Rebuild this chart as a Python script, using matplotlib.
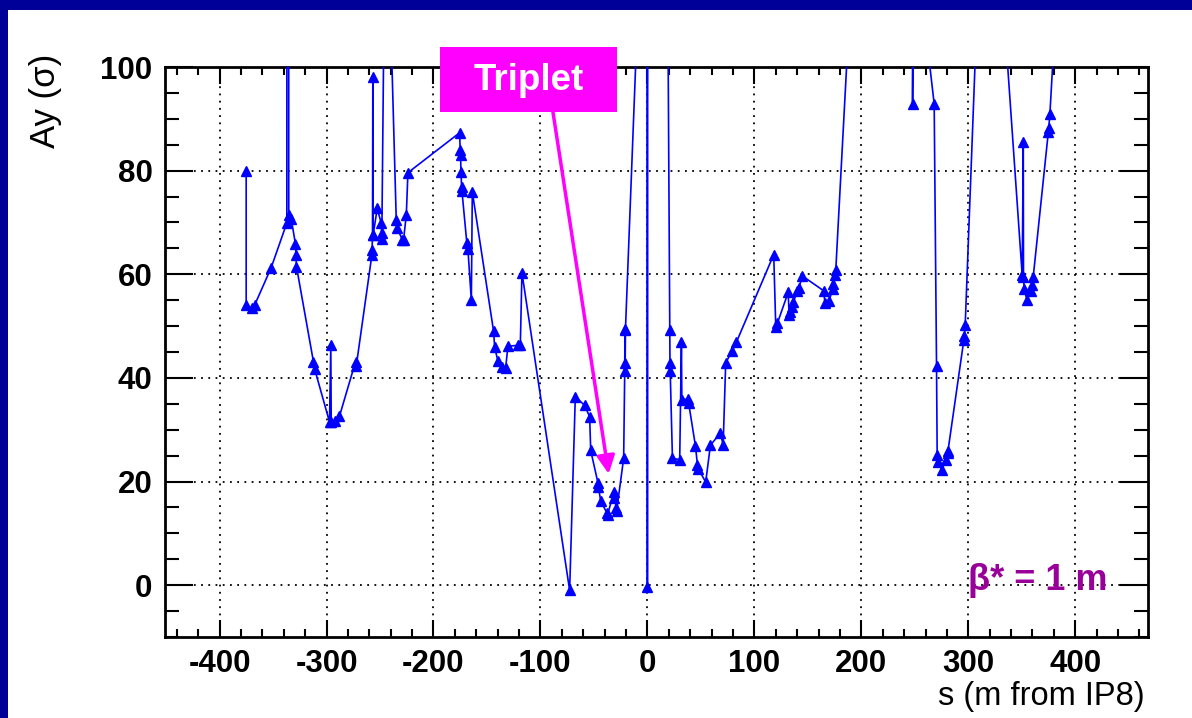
import matplotlib
matplotlib.use("Agg")
import matplotlib.pyplot as plt
from matplotlib.patches import Rectangle
from matplotlib.ticker import MultipleLocator

# ---- data (s in m from IP8, aperture Ay in sigma) ----
s_m = [-375.1, -375.1, -369.5, -367.3, -351.7, -337.1, -336.2, -335.3, -333.0, -329.0,
       -328.6, -328.1, -312.2, -311.2, -297.2, -296.0, -295.6, -292.5, -287.9, -272.9,
       -272.2, -257.6, -257.4, -257.0, -256.7, -256.4, -252.6, -248.8, -248.5, -248.3,
       -244.7, -234.8, -233.9, -229.2, -228.0, -225.4, -223.9, -175.6, -175.0, -174.7,
       -174.3, -173.7, -173.4, -168.8, -167.8, -164.6, -163.7, -143.8, -142.8, -139.7,
       -135.6, -132.5, -130.4, -121.0, -118.8, -117.3, -72.7, -67.4, -58.7, -54.0,
       -53.0, -46.2, -45.8, -43.7, -37.8, -37.3, -31.2, -30.8, -29.0, -28.8,
       -22.2, -21.2, -21.0, -20.8, -20.5, -4.5, -1.2, 0.0, 1.3, 16.0,
       20.9, 21.1, 21.3, 23.4, 30.2, 31.8, 32.2, 38.0, 38.5, 44.9,
       46.8, 47.5, 54.5, 58.9, 68.3, 70.8, 73.2, 79.2, 83.2, 118.1,
       120.0, 121.6, 131.6, 132.5, 133.5, 135.6, 136.5, 140.0, 141.8, 144.7,
       164.9, 165.9, 169.9, 173.1, 173.6, 175.2, 176.1, 212.0, 247.9, 247.9,
       249.0, 268.1, 270.3, 270.9, 271.5, 275.3, 279.0, 280.6, 281.0, 295.9,
       296.3, 297.1, 317.0, 350.4, 351.4, 351.6, 352.3, 354.8, 358.6, 359.5,
       360.7, 374.8, 375.2, 376.3, 387.0]
ay_sigma = [80.0, 54.0, 53.4, 54.0, 61.3, 69.9, 1000.0, 71.5, 70.7, 65.8,
            63.7, 61.5, 43.1, 41.8, 31.5, 46.3, 31.5, 31.7, 32.6, 43.1,
            42.3, 63.7, 64.7, 67.6, 98.0, 67.6, 72.7, 69.8, 68.0, 66.9,
            144.0, 70.5, 68.9, 66.7, 66.7, 71.4, 79.6, 87.3, 84.0, 83.1,
            79.8, 76.9, 76.1, 66.0, 64.8, 55.0, 75.9, 49.0, 45.9, 43.2,
            42.1, 42.0, 46.1, 46.3, 46.4, 60.3, -1.0, 36.4, 34.7, 32.5,
            26.0, 19.7, 19.0, 16.3, 13.9, 13.6, 18.0, 16.9, 14.9, 14.3,
            24.5, 41.4, 49.3, 42.8, 49.5, 135.0, 500.0, -0.3, 500.0, 220.0,
            49.3, 42.8, 41.4, 24.5, 24.2, 46.9, 35.8, 35.9, 35.2, 26.9,
            23.2, 22.5, 19.9, 27.0, 29.4, 27.0, 42.9, 45.2, 46.9, 63.8,
            49.8, 50.6, 56.5, 52.1, 52.7, 53.7, 54.6, 56.8, 57.4, 59.7,
            56.8, 54.5, 54.8, 57.2, 58.2, 59.8, 60.8, 200.0, 127.0, 92.8,
            127.0, 92.9, 42.3, 25.2, 23.8, 22.3, 24.1, 25.6, 25.9, 47.3,
            48.0, 50.2, 159.0, 59.8, 85.5, 59.5, 57.2, 55.0, 56.8, 58.0,
            59.5, 87.5, 88.2, 91.0, 130.0]

x_ticks = [-400, -300, -200, -100, 0, 100, 200, 300, 400]
y_ticks = [0, 20, 40, 60, 80, 100]

W, H = 1192, 718
fig = plt.figure(figsize=(W / 100, H / 100), dpi=100)
fig.patch.set_facecolor("white")

# dark blue frame strips (top and left)
fig.add_artist(Rectangle((0, 1 - 10 / H), 1, 10 / H, transform=fig.transFigure,
                         facecolor="#000099", edgecolor="none", zorder=0))
fig.add_artist(Rectangle((0, 0), 8 / W, 1, transform=fig.transFigure,
                         facecolor="#000099", edgecolor="none", zorder=0))

L, R, T, B = 165, 1148, 67, 637
ax = fig.add_axes([L / W, 1 - B / H, (R - L) / W, (B - T) / H])
ax.set_xlim(-451, 468)
ax.set_ylim(-10, 100)

ax.plot(s_m, ay_sigma, color="#0000ff", linewidth=1.2, marker="^",
        markersize=7.5, markerfacecolor="#0000ff", markeredgecolor="#0000ff", zorder=3)

ax.set_xticks(x_ticks)
ax.set_yticks(y_ticks)
ax.xaxis.set_minor_locator(MultipleLocator(20))
ax.yaxis.set_minor_locator(MultipleLocator(5))
ax.set_axisbelow(True)
ax.grid(True, which="major", color="black", linestyle=(0, (1, 3)), linewidth=1.3)

fp = dict(family="Liberation Sans", weight="bold", size=22.5)
ax.set_xticklabels([str(v) for v in x_ticks], fontdict=fp)
ax.set_yticklabels([str(v) for v in y_ticks], fontdict=fp)

ax.tick_params(which="both", direction="in", top=True, right=True, width=1.5, colors="black")
ax.tick_params(axis="x", which="major", length=12, pad=9)
ax.tick_params(axis="x", which="minor", length=6)
ax.tick_params(axis="y", which="major", length=20, pad=9)
ax.tick_params(axis="y", which="minor", length=10)
for sp in ax.spines.values():
    sp.set_linewidth(2)

# axis titles
fig.text(45 / W, 1 - 54 / H, "Ay (σ)", rotation=90, ha="center", va="top",
         family="Liberation Sans", fontsize=25)
fig.text(1145 / W, 1 - 697 / H, "s (m from IP8)", ha="right", va="center",
         family="Liberation Sans", fontsize=23.5)

# Triplet box + arrow
fig.add_artist(Rectangle((440 / W, 1 - 112 / H), 177 / W, 65 / H, transform=fig.transFigure,
                         facecolor="#ff00ff", edgecolor="none", zorder=5))
fig.text(528.5 / W, 1 - 80 / H, "Triplet", ha="center", va="center", color="white",
         family="Liberation Sans", weight="bold", fontsize=26.5, zorder=6)
ax.annotate("", xy=(-36.2, 21.5), xytext=(-88.3, 91.3),
            arrowprops=dict(arrowstyle="-|>", color="#ff00ff", lw=2.5,
                            mutation_scale=27, shrinkA=0, shrinkB=0), zorder=4)

ax.text(429.7, -0.9, "β* = 1 m", ha="right", va="baseline", color="#990099",
        family="Liberation Sans", weight="bold", fontsize=26, zorder=5)

fig.savefig("out.png", dpi=100, facecolor="white")
